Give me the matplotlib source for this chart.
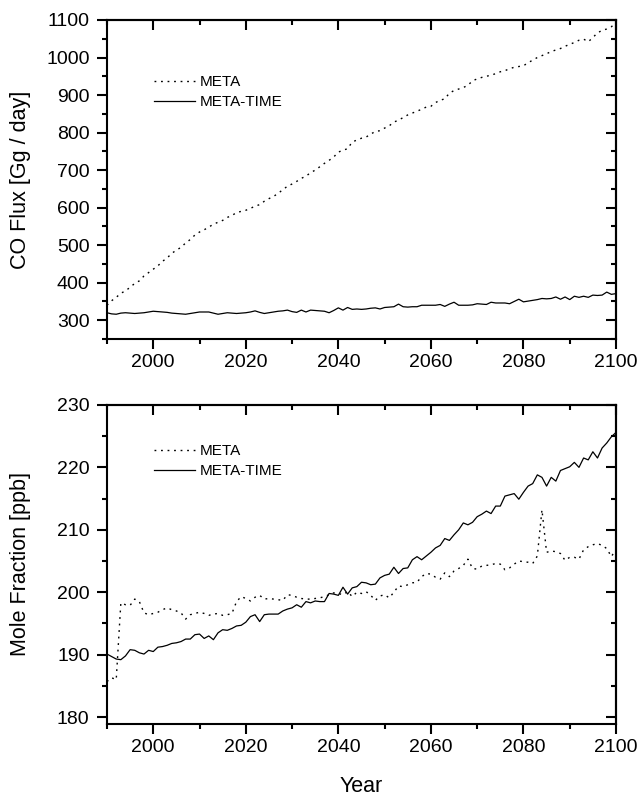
import numpy as np
import matplotlib
matplotlib.use("Agg")
import matplotlib.pyplot as plt
from matplotlib.ticker import MultipleLocator

plt.rcParams['font.family'] = ['Liberation Sans', 'DejaVu Sans']

years = list(range(1990, 2101))

# CO flux [Gg / day]
flux_meta = [
    340, 352, 361, 372, 378, 388, 398, 405, 418, 427,
    436, 445, 457, 466, 478, 487, 494, 506, 515, 527,
    535, 541, 548, 556, 561, 566, 574, 579, 587, 590,
    593, 598, 604, 608, 617, 624, 630, 638, 648, 657,
    663, 670, 678, 684, 693, 700, 709, 718, 726, 735,
    748, 753, 757, 775, 780, 785, 788, 796, 803, 805,
    812, 818, 828, 833, 840, 847, 852, 857, 862, 868,
    870, 880, 886, 890, 905, 912, 916, 920, 926, 938,
    943, 947, 950, 953, 957, 962, 965, 970, 974, 976,
    978, 986, 993, 1000, 1005, 1010, 1016, 1020, 1024, 1030,
    1035, 1040, 1046, 1049, 1042, 1053, 1066, 1072, 1076, 1082,
    1092,
]
flux_meta_time = [
    320, 317, 316, 319, 320, 319, 318, 319, 320, 322,
    324, 323, 322, 321, 319, 318, 317, 316, 318, 320,
    322, 322, 322, 319, 316, 318, 320, 319, 318, 319,
    320, 322, 325, 321, 318, 320, 322, 324, 325, 327,
    323, 321, 327, 322, 327, 326, 325, 324, 320, 326,
    333, 327, 334, 329, 330, 329, 330, 332, 333, 330,
    334, 335, 336, 343, 336, 335, 336, 336, 340, 340,
    340, 340, 342, 337, 343, 348, 340, 340, 340, 341,
    344, 343, 342, 348, 346, 346, 346, 344, 350, 356,
    349, 351, 353, 355, 358, 357, 358, 362, 356, 362,
    355, 364, 361, 364, 361, 367, 366, 367, 375, 369,
    371,
]

# CO mole fraction [ppb]
mole_meta = [
    185.7, 186.3, 186.0, 198.3, 198.0, 197.9, 198.9, 198.5, 196.7, 196.4,
    196.6, 196.8, 197.2, 197.5, 197.2, 197.0, 196.7, 195.7, 196.4, 196.6,
    196.8, 196.6, 196.3, 196.5, 196.6, 196.3, 196.4, 196.6, 198.5, 199.3,
    199.0, 198.6, 199.2, 199.5, 198.9, 199.0, 198.9, 198.8, 198.7, 199.6,
    199.5, 199.2, 199.0, 198.9, 198.9, 199.0, 199.1, 199.3, 199.6, 199.9,
    199.8, 199.6, 200.1, 199.3, 200.0, 199.8, 200.1, 199.5, 198.7, 199.4,
    199.6, 199.1, 200.0, 201.0, 200.9, 201.2, 201.5, 201.6, 202.5, 203.0,
    202.9, 202.4, 202.1, 203.1, 202.5, 203.4, 203.8, 204.3, 205.3, 203.8,
    203.7, 204.2, 204.3, 204.4, 204.6, 204.5, 203.6, 203.9, 204.5, 205.0,
    204.9, 204.8, 204.6, 205.8, 213.2, 206.4, 206.6, 206.5, 206.2, 205.1,
    205.6, 205.6, 205.3, 206.8, 207.3, 207.6, 207.8, 207.5, 207.0, 205.7,
    206.9,
]
mole_meta_time = [
    190.1, 189.7, 189.3, 189.2, 189.8, 190.8, 190.7, 190.3, 190.1, 190.7,
    190.5, 191.2, 191.3, 191.5, 191.8, 191.9, 192.1, 192.5, 192.5, 193.2,
    193.3, 192.6, 193.0, 192.4, 193.5, 194.0, 193.9, 194.2, 194.6, 194.7,
    195.2, 196.1, 196.4, 195.3, 196.4, 196.5, 196.5, 196.5, 197.0, 197.3,
    197.5, 198.0, 197.6, 198.5, 198.3, 198.6, 198.5, 198.5, 199.8, 199.7,
    199.5, 200.8, 199.7, 200.7, 200.9, 201.6, 201.5, 201.2, 201.3, 202.3,
    202.7, 202.9, 204.0, 203.0, 203.8, 203.9, 205.2, 205.7, 205.2, 205.8,
    206.4, 207.1, 207.5, 208.6, 208.3, 209.2, 210.0, 211.1, 210.8, 211.2,
    212.1, 212.5, 213.0, 212.6, 213.8, 213.8, 215.4, 215.6, 215.8, 214.9,
    216.0, 217.0, 217.4, 218.8, 218.4, 217.0, 218.4, 217.8, 219.5, 219.8,
    220.1, 220.8, 220.0, 221.5, 221.2, 222.5, 221.5, 223.1, 223.9, 224.9,
    225.6,
]

series_labels = ["META", "META-TIME"]

fig = plt.figure(figsize=(6.39, 7.99), dpi=100)
ax_top = fig.add_axes([0.1674, 0.5757, 0.7966, 0.3993])
ax_bot = fig.add_axes([0.1674, 0.0939, 0.7966, 0.3993])

DOT = (0, (1.3, 3.4))


def style_axes(ax, ymaj, ymin):
    for sp in ax.spines.values():
        sp.set_linewidth(1.5)
    ax.set_xlim(1990, 2100)
    ax.xaxis.set_major_locator(MultipleLocator(20))
    ax.xaxis.set_minor_locator(MultipleLocator(10))
    ax.yaxis.set_major_locator(MultipleLocator(ymaj))
    ax.yaxis.set_minor_locator(MultipleLocator(ymin))
    ax.tick_params(which='both', direction='out', width=1.5, labelsize=14)
    ax.tick_params(which='major', length=7)
    ax.tick_params(which='minor', length=3.5)
    ax.tick_params(axis='x', which='major', pad=4)
    ax.tick_params(axis='y', which='major', pad=5.5)
    # mirrored ticks on top and right point inward
    top = ax.secondary_xaxis('top')
    top.xaxis.set_major_locator(MultipleLocator(20))
    top.xaxis.set_minor_locator(MultipleLocator(10))
    top.tick_params(which='both', direction='in', width=1.5, labeltop=False)
    top.tick_params(which='major', length=7)
    top.tick_params(which='minor', length=3.5)
    top.spines['top'].set_linewidth(1.5)
    right = ax.secondary_yaxis('right')
    right.yaxis.set_major_locator(MultipleLocator(ymaj))
    right.yaxis.set_minor_locator(MultipleLocator(ymin))
    right.tick_params(which='both', direction='in', width=1.5, labelright=False)
    right.tick_params(which='major', length=7)
    right.tick_params(which='minor', length=3.5)
    right.spines['right'].set_linewidth(1.5)


# Upper panel: CO flux
ax_top.plot(years, flux_meta, color='black', lw=1.0, linestyle=DOT, label=series_labels[0])
ax_top.plot(years, flux_meta_time, color='black', lw=0.9, label=series_labels[1])
ax_top.set_ylim(250, 1100)
style_axes(ax_top, 100, 50)
ax_top.set_ylabel("CO Flux [Gg / day]", fontsize=15.5)
ax_top.yaxis.set_label_coords(-0.15, 0.5)
ax_top.legend(loc='upper left', bbox_to_anchor=(0.092, 0.828), frameon=False,
              fontsize=11, handlelength=2.7, handletextpad=0.3,
              labelspacing=0.4, borderpad=0, borderaxespad=0)

# Lower panel: CO mole fraction
ax_bot.plot(years, mole_meta, color='black', lw=1.0, linestyle=DOT, label=series_labels[0])
ax_bot.plot(years, mole_meta_time, color='black', lw=0.9, label=series_labels[1])
ax_bot.set_ylim(178.9, 230)
style_axes(ax_bot, 10, 5)
ax_bot.set_ylabel("Mole Fraction [ppb]", fontsize=15.5)
ax_bot.yaxis.set_label_coords(-0.15, 0.5)
ax_bot.set_xlabel("Year", fontsize=15.5)
ax_bot.xaxis.set_label_coords(0.5, -0.162)
ax_bot.legend(loc='upper left', bbox_to_anchor=(0.092, 0.878), frameon=False,
              fontsize=11, handlelength=2.7, handletextpad=0.3,
              labelspacing=0.4, borderpad=0, borderaxespad=0)

fig.savefig("out.png", dpi=100)
